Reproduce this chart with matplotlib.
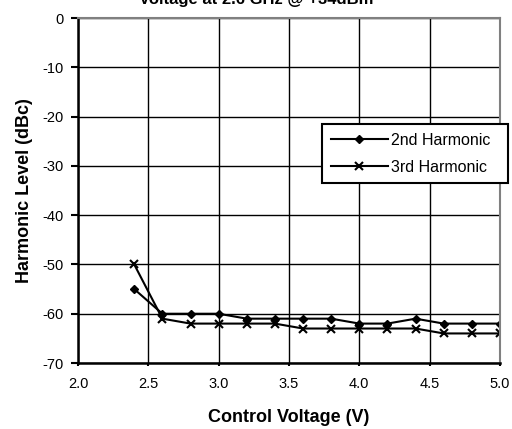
import matplotlib
matplotlib.use("Agg")
import matplotlib.pyplot as plt

plt.rcParams['font.family'] = ['Liberation Sans', 'DejaVu Sans']
plt.rcParams['axes.unicode_minus'] = False

# data
voltage = [2.4, 2.6, 2.8, 3.0, 3.2, 3.4, 3.6, 3.8, 4.0, 4.2, 4.4, 4.6, 4.8, 5.0]
second_harm = [-55, -60, -60, -60, -61, -61, -61, -61, -62, -62, -61, -62, -62, -62]
third_harm = [-50, -61, -62, -62, -62, -62, -63, -63, -63, -63, -63, -64, -64, -64]

x_ticks = [2.0, 2.5, 3.0, 3.5, 4.0, 4.5, 5.0]
y_ticks = [0, -10, -20, -30, -40, -50, -60, -70]

fig = plt.figure(figsize=(5.12, 4.29), dpi=100)
ax = fig.add_axes([0.1523, 0.1538, 0.8242, 0.8042])

ax.plot(voltage, second_harm, color='black', lw=1.5, marker='D', ms=4.5,
        label='2nd Harmonic')
ax.plot(voltage, third_harm, color='black', lw=1.5, marker='x', ms=6, mew=1.5,
        label='3rd Harmonic')

ax.set_xlim(2.0, 5.0)
ax.set_ylim(-70, 0)
ax.set_xticks(x_ticks)
ax.set_xticklabels([f"{v:.1f}" for v in x_ticks])
ax.set_yticks(y_ticks)
ax.grid(True, color='black', lw=1.0)
ax.set_axisbelow(True)

ax.tick_params(axis='both', labelsize=10.5, direction='out', width=1.5,
               color='black')
ax.tick_params(axis='x', length=2, pad=8)
ax.tick_params(axis='y', length=5, pad=5)
for side in ['left', 'bottom']:
    ax.spines[side].set_linewidth(1.8)
for side in ['top', 'right']:
    ax.spines[side].set_color('#808080')
    ax.spines[side].set_linewidth(1.5)

ax.set_xlabel('Control Voltage (V)', fontsize=13, fontweight='bold', labelpad=13)
ax.set_ylabel('Harmonic Level (dBc)', fontsize=13, fontweight='bold', labelpad=7)

fig.text(0.5, 1.02, 'Harmonic Level vs. Control\nVoltage at 2.6 GHz @ +34dBm',
         ha='center', va='center', fontsize=12, fontweight='bold',
         linespacing=1.1)

leg = ax.legend(loc='upper left', bbox_to_anchor=(0.578, 0.593, 0.441, 0.1),
                mode='expand', fontsize=11.5,
                frameon=True, fancybox=False, edgecolor='black',
                handlelength=3.6, borderpad=0.55, labelspacing=0.75,
                handletextpad=0.2, borderaxespad=0)
leg.get_frame().set_linewidth(1.5)
leg.get_frame().set_alpha(1)
leg.set_clip_on(False)

fig.savefig('out.png', dpi=100)
